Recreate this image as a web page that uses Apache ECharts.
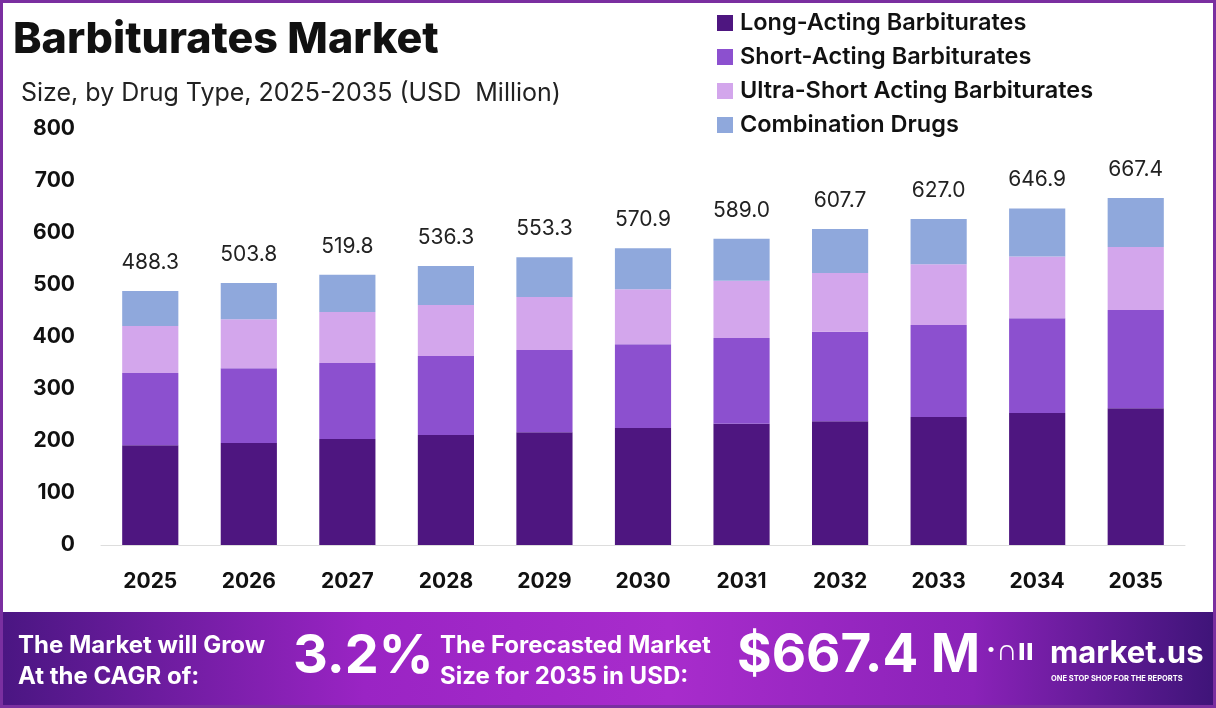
<!DOCTYPE html>
<html>
<head>
<meta charset="utf-8">
<script src="https://cdn.jsdelivr.net/npm/echarts@6/dist/echarts.min.js"></script>
<style>
  html, body { margin: 0; padding: 0; background: #fff; }
  #chart { width: 1216px; height: 708px; }
</style>
</head>
<body>
<div id="chart"></div>
<script>
const years = ['2025', '2026', '2027', '2028', '2029', '2030', '2031', '2032', '2033', '2034', '2035']
const longActing = [192, 196, 204, 211.5, 217, 225, 233, 238, 246, 254, 263]
const shortActing = [139, 144, 146, 152, 158, 161, 165, 172, 177, 182, 189]
const ultraShort = [90, 94, 98, 98, 102, 106, 110, 113, 117, 119, 121]
const totals = [488.3, 503.8, 519.8, 536.3, 553.3, 570.9, 589.0, 607.7, 627.0, 646.9, 667.4]
const combination = totals.map((t, i) => +(t - longActing[i] - shortActing[i] - ultraShort[i]).toFixed(1))

const font = 'Inter, "Noto Sans", sans-serif'
const chart = echarts.init(document.getElementById('chart'))

function bar(name, data, color, withLabel) {
  const s = {
    name: name,
    type: 'bar',
    stack: 'total',
    barWidth: '57%',
    itemStyle: { color: color },
    data: data
  }
  if (withLabel) {
    s.label = {
      show: true,
      position: 'top',
      distance: 18,
      color: '#222',
      fontFamily: font,
      fontSize: 21,
      formatter: p => totals[p.dataIndex].toFixed(1)
    }
  }
  return s
}

chart.setOption({
  backgroundColor: '#fff',
  animation: false,
  title: [
    {
      text: 'Barbiturates Market',
      left: 8,
      top: 14,
      textStyle: { fontFamily: font, fontWeight: 800, fontSize: 43, color: '#111' }
    },
    {
      text: 'Size, by Drug Type, 2025-2035 (USD  Million)',
      left: 16,
      top: 76,
      textStyle: { fontFamily: font, fontWeight: 'normal', fontSize: 25, color: '#222' }
    }
  ],
  legend: {
    orient: 'vertical',
    left: 712,
    top: 6,
    itemWidth: 16,
    itemHeight: 16,
    itemGap: 10,
    icon: 'rect',
    textStyle: { fontFamily: font, fontWeight: 600, fontSize: 23.5, lineHeight: 24, color: '#111', padding: [0, 0, 0, 2] }
  },
  grid: { left: 101, right: 31, top: 129, bottom: 163 },
  xAxis: {
    type: 'category',
    data: years,
    axisLine: { lineStyle: { color: '#ddd' } },
    axisTick: { show: false },
    axisLabel: { margin: 26, color: '#111', fontFamily: font, fontWeight: 'bold', fontSize: 21 }
  },
  yAxis: {
    type: 'value',
    min: 0,
    max: 800,
    interval: 100,
    splitLine: { show: false },
    axisLine: { show: false },
    axisTick: { show: false },
    axisLabel: { margin: 26, color: '#111', fontFamily: font, fontWeight: 'bold', fontSize: 21 }
  },
  series: [
    bar('Long-Acting Barbiturates', longActing, '#4e1680'),
    bar('Short-Acting Barbiturates', shortActing, '#8c50cf'),
    bar('Ultra-Short Acting Barbiturates', ultraShort, '#d3a6ec'),
    bar('Combination Drugs', combination, '#8fa8dc', true)
  ],
  graphic: [
    {
      type: 'rect',
      shape: { x: 1.5, y: 1.5, width: 1213, height: 705 },
      style: { fill: 'none', stroke: '#7a2fa0', lineWidth: 3 },
      z: 100
    },
    {
      type: 'rect',
      shape: { x: 0, y: 612, width: 1216, height: 96 },
      style: {
        fill: new echarts.graphic.LinearGradient(0, 0, 1, 0, [
          { offset: 0, color: '#4a1682' },
          { offset: 0.3, color: '#9a24c4' },
          { offset: 0.55, color: '#a82ccc' },
          { offset: 0.8, color: '#8a22b8' },
          { offset: 1, color: '#3e1478' }
        ])
      },
      z: 90
    },
    {
      type: 'text', left: 18, top: 630, z: 95,
      style: { text: 'The Market will Grow\nAt the CAGR of:', fill: '#fff', font: 'bold 24px ' + font, lineHeight: 31 }
    },
    {
      type: 'text', left: 293, top: 630, z: 95,
      style: { text: '3.2%', fill: '#fff', font: 'bold 54px ' + font, shadowBlur: 6, shadowColor: 'rgba(0,0,0,0.35)', shadowOffsetY: 2 }
    },
    {
      type: 'text', left: 440, top: 630, z: 95,
      style: { text: 'The Forecasted Market\nSize for 2035 in USD:', fill: '#fff', font: 'bold 24px ' + font, lineHeight: 31 }
    },
    {
      type: 'text', left: 737, top: 630, z: 95,
      style: { text: '$667.4 M', fill: '#fff', font: 'bold 53px ' + font, shadowBlur: 6, shadowColor: 'rgba(0,0,0,0.35)', shadowOffsetY: 2 }
    },
    {
      type: 'text', left: 986, top: 636, z: 95,
      style: { text: '·∩ıı', fill: '#fff', font: 'bold 30px ' + font }
    },
    {
      type: 'text', left: 1050, top: 638, z: 95,
      style: { text: 'market.us', fill: '#fff', font: 'bold 31px ' + font }
    },
    {
      type: 'text', left: 1051, top: 675, z: 95,
      style: { text: 'ONE STOP SHOP FOR THE REPORTS', fill: '#fff', font: 'bold 7.5px ' + font }
    }
  ]
})
</script>
</body>
</html>
